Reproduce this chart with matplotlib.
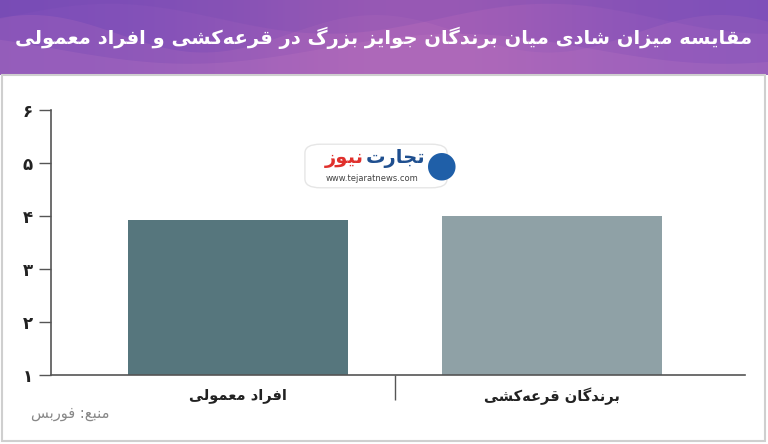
import numpy as np
import matplotlib
matplotlib.use("Agg")
import matplotlib.pyplot as plt
from matplotlib.patches import Rectangle, FancyBboxPatch

# ---------------- data ----------------
title = "مقایسه میزان شادی میان برندگان جوایز بزرگ در قرعه‌کشی و افراد معمولی"
categories = ["افراد معمولی", "برندگان قرعه‌کشی"]
values = [3.92, 4.0]
bar_colors = ["#56767d", "#8fa1a6"]
yticks = [1, 2, 3, 4, 5, 6]
ytick_labels = ["۱", "۲", "۳", "۴", "۵", "۶"]
source = "منبع: فوربس"

# ---------------- minimal Arabic/Persian shaping ----------------
FORMS = {
    '\u0627': ('\uFE8D', '\uFE8E', None, None),
    '\u0628': ('\uFE8F', '\uFE90', '\uFE91', '\uFE92'),
    '\u062A': ('\uFE95', '\uFE96', '\uFE97', '\uFE98'),
    '\u062C': ('\uFE9D', '\uFE9E', '\uFE9F', '\uFEA0'),
    '\u062F': ('\uFEA9', '\uFEAA', None, None),
    '\u0631': ('\uFEAD', '\uFEAE', None, None),
    '\u0632': ('\uFEAF', '\uFEB0', None, None),
    '\u0633': ('\uFEB1', '\uFEB2', '\uFEB3', '\uFEB4'),
    '\u0634': ('\uFEB5', '\uFEB6', '\uFEB7', '\uFEB8'),
    '\u0639': ('\uFEC9', '\uFECA', '\uFECB', '\uFECC'),
    '\u0641': ('\uFED1', '\uFED2', '\uFED3', '\uFED4'),
    '\u0642': ('\uFED5', '\uFED6', '\uFED7', '\uFED8'),
    '\u0644': ('\uFEDD', '\uFEDE', '\uFEDF', '\uFEE0'),
    '\u0645': ('\uFEE1', '\uFEE2', '\uFEE3', '\uFEE4'),
    '\u0646': ('\uFEE5', '\uFEE6', '\uFEE7', '\uFEE8'),
    '\u0647': ('\uFEE9', '\uFEEA', '\uFEEB', '\uFEEC'),
    '\u0648': ('\uFEED', '\uFEEE', None, None),
    '\u06CC': ('\uFBFC', '\uFBFD', '\uFBFE', '\uFBFF'),
    '\u06A9': ('\uFB8E', '\uFB8F', '\uFB90', '\uFB91'),
    '\u06AF': ('\uFB92', '\uFB93', '\uFB94', '\uFB95'),
}


def fa(text):
    chars = list(text)
    out = []
    for i, c in enumerate(chars):
        if c not in FORMS:
            if c == '\u200c':
                continue
            out.append(c)
            continue
        prev = chars[i - 1] if i > 0 else None
        nxt = chars[i + 1] if i + 1 < len(chars) else None
        jp = prev in FORMS and FORMS[prev][2] is not None
        jn = nxt in FORMS and FORMS[c][2] is not None
        iso, fin, ini, med = FORMS[c]
        if jp and jn:
            out.append(med)
        elif jp:
            out.append(fin)
        elif jn:
            out.append(ini)
        else:
            out.append(iso)
    return ''.join(reversed(out))


plt.rcParams['font.family'] = ['DejaVu Sans']

W, H = 768, 444
fig = plt.figure(figsize=(W / 100, H / 100), dpi=100)
fig.patch.set_facecolor("white")

# ---------------- header band ----------------
band_h = 75
hax = fig.add_axes([0, 1 - band_h / H, 1, band_h / H])
hax.set_xlim(0, 1)
hax.set_ylim(0, 1)
hax.axis("off")
xs = np.linspace(0, 1, 400)
c_left = np.array([0x7c, 0x4e, 0xb8]) / 255
c_mid = np.array([0xa2, 0x5e, 0xb6]) / 255
c_right = np.array([0x82, 0x52, 0xbc]) / 255
t = xs[None, :]
wmid = np.exp(-((t - 0.55) / 0.28) ** 2)
grad = (c_left[:, None, None] * (1 - t) + c_right[:, None, None] * t) * (1 - wmid) + c_mid[:, None, None] * wmid
grad = np.repeat(grad, 2, axis=1).transpose(1, 2, 0)
hax.imshow(grad, extent=[0, 1, 0, 1], aspect="auto", zorder=0)
hax.fill_between(xs, 0, 0.55 + 0.25 * np.sin(xs * 14 + 1.0), color="#c77ac0", alpha=0.18, lw=0, zorder=1)
hax.fill_between(xs, 0, 0.35 + 0.2 * np.sin(xs * 9 + 2.5), color="#d58bc8", alpha=0.15, lw=0, zorder=1)
hax.fill_between(xs, 0.75 + 0.2 * np.sin(xs * 11), 1, color="#6a44b0", alpha=0.18, lw=0, zorder=1)
hax.text(0.5, 0.5, fa(title), color="white", fontsize=14, fontweight="bold",
         ha="center", va="center", zorder=3)

# ---------------- frame ----------------
fig.add_artist(Rectangle((2 / W, 3 / H), (W - 5) / W, (H - band_h - 3) / H,
                         transform=fig.transFigure, fill=False,
                         edgecolor="#cfcfcf", lw=1.5))

# ---------------- chart ----------------
ax = fig.add_axes([51 / W, 1 - 375 / H, (745 - 51) / W, (375 - 110) / H])
x = np.arange(len(categories))
ax.bar(x, np.array(values) - 1, bottom=1, width=0.70, color=bar_colors, zorder=2)
ax.set_xlim(-0.595, 1.615)
ax.set_ylim(1, 6)
ax.set_yticks(yticks)
ax.set_yticklabels(ytick_labels, fontsize=12, fontweight="bold", color="#222222")
ax.tick_params(axis="y", length=9, width=1, color="#555555", pad=4)
ax.set_xticks([0.5])
ax.set_xticklabels([""])
ax.tick_params(axis="x", length=18, width=1, color="#555555")
for s in ["top", "right"]:
    ax.spines[s].set_visible(False)
for s in ["left", "bottom"]:
    ax.spines[s].set_color("#555555")
    ax.spines[s].set_linewidth(1.2)
for xi, lab in zip(x, categories):
    ax.annotate(fa(lab), (xi, 1), xytext=(0, -15), textcoords="offset points",
                ha="center", va="center", fontsize=10.5, fontweight="bold",
                color="#222222", annotation_clip=False)

# ---------------- watermark logo ----------------
fig.add_artist(FancyBboxPatch((308 / W, 1 - 186 / H), 136 / W, 40 / H,
                              boxstyle="round,pad=0.004,rounding_size=0.02",
                              transform=fig.transFigure, facecolor="white",
                              edgecolor="#e6e6e6", lw=1, zorder=5))
fig.text(442 / W, 1 - 166 / H, "●", color="#1f5fa8", fontsize=26, ha="center", va="center", zorder=6)
t1 = fig.text(425 / W, 1 - 159 / H, fa("تجارت"), color="#1f4f8f", fontsize=14, fontweight="bold",
              ha="right", va="center", zorder=6)
fig.canvas.draw()
bb = t1.get_window_extent()
fig.text((bb.x0 - 2) / W, 1 - 159 / H, fa("نیوز"), color="#e0302c", fontsize=14, fontweight="bold",
         ha="right", va="center", zorder=6)
fig.text(372 / W, 1 - 178 / H, "www.tejaratnews.com", color="#444444", fontsize=6,
         ha="center", va="center", zorder=6)

# ---------------- source ----------------
fig.text(70 / W, 1 - 413 / H, fa(source), color="#888888", fontsize=10.5,
         ha="center", va="center")

fig.savefig("out.png", dpi=100)
